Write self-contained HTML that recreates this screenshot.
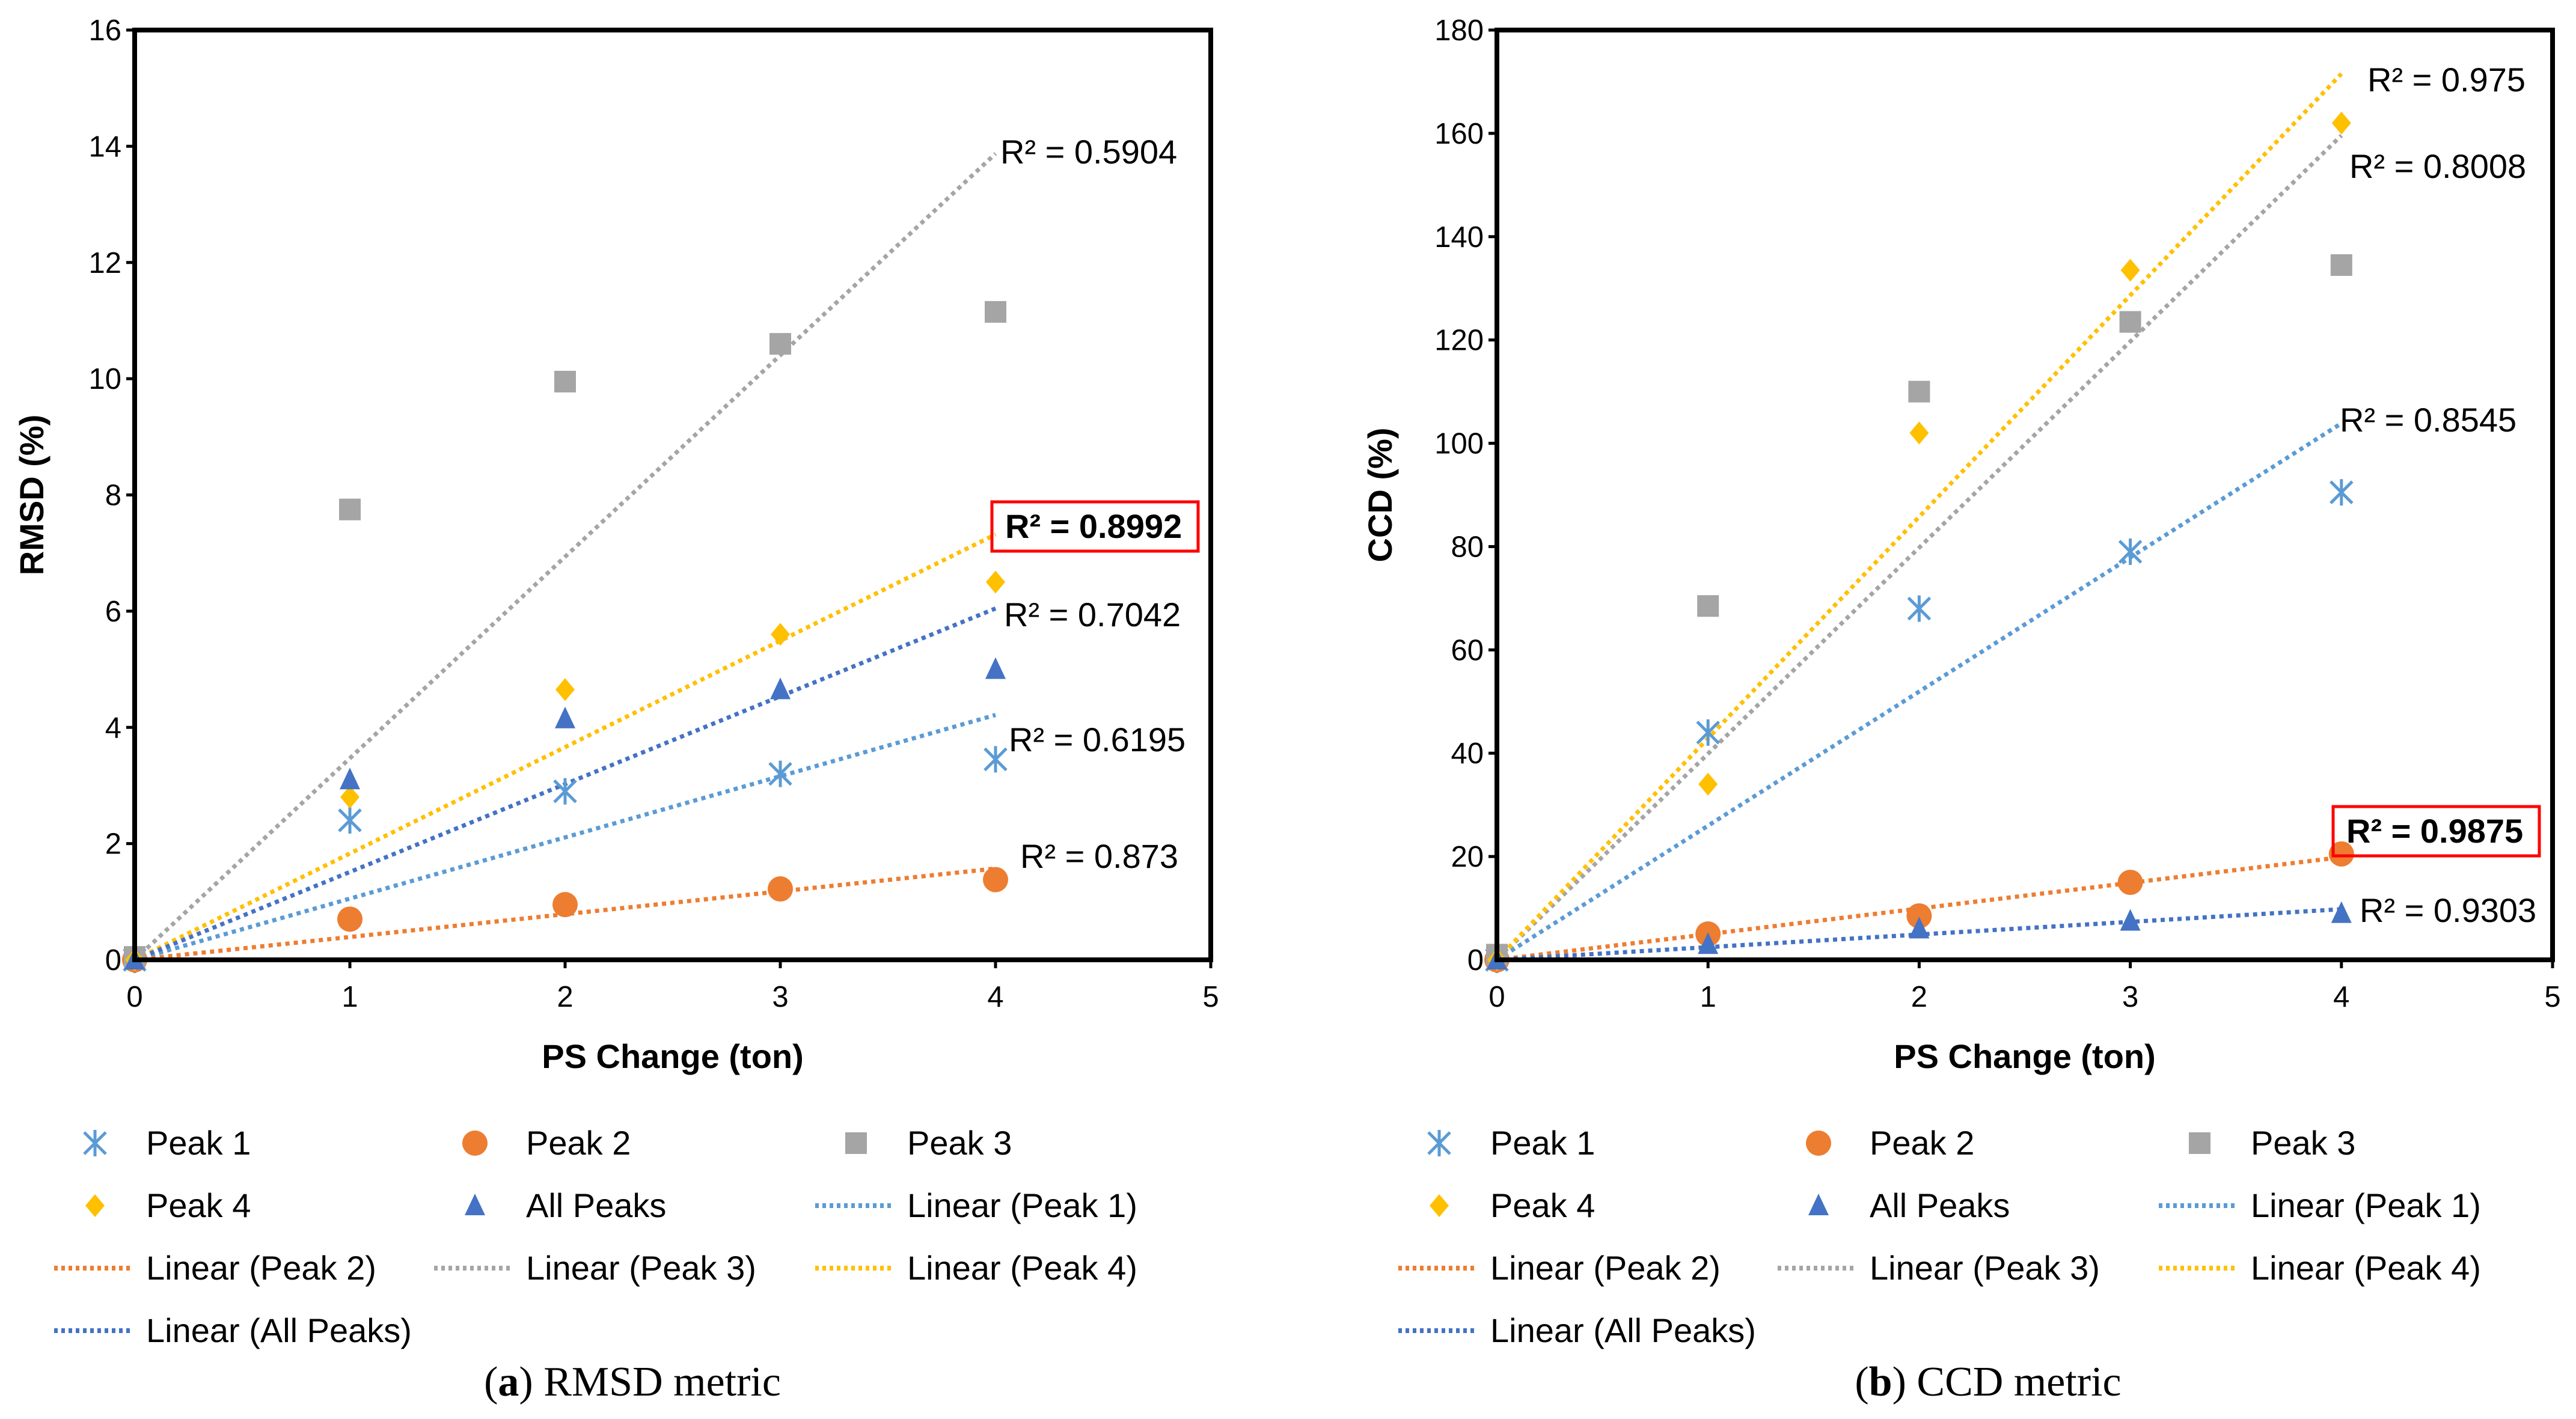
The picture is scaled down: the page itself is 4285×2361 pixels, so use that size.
<!DOCTYPE html>
<html><head><meta charset="utf-8"><style>
html,body{margin:0;padding:0;background:#fff;}
svg{display:block;}
text{font-family:"Liberation Sans",sans-serif;}
text.serif{font-family:"Liberation Serif",serif;}
</style></head><body>
<svg id="fig" width="4285" height="2361" viewBox="0 0 4285 2361" xmlns="http://www.w3.org/2000/svg"></svg>
<script>
const xTicks = [0,1,2,3,4,5];
const xVals = [0,1,2,3,4];
const rmsdTicks = [0,2,4,6,8,10,12,14,16];
const rmsdPeak1 = [0,2.4,2.9,3.2,3.45];
const rmsdPeak2 = [0,0.7,0.95,1.22,1.38];
const rmsdPeak3 = [0.05,7.75,9.95,10.6,11.15];
const rmsdPeak4 = [0,2.8,4.65,5.6,6.5];
const rmsdAll = [0,3.1,4.15,4.65,5.0];
const rmsdR2 = ["0.6195","0.873","0.5904","0.8992","0.7042"];
const ccdTicks = [0,20,40,60,80,100,120,140,160,180];
const ccdPeak1 = [0,44,68,79,90.5];
const ccdPeak2 = [0,5,8.5,15,20.5];
const ccdPeak3 = [1,68.5,110,123.5,134.5];
const ccdPeak4 = [0,34,102,133.5,162];
const ccdAll = [0,3,6,7.5,9];
const ccdR2 = ["0.8545","0.9875","0.8008","0.975","0.9303"];
const seriesNames = ["Peak 1","Peak 2","Peak 3","Peak 4","All Peaks"];

const NS="http://www.w3.org/2000/svg";
const svg=document.getElementById('fig');
const colors=["#5B9BD5","#ED7D31","#A5A5A5","#FFC000","#4472C4"];
function el(tag,attrs,parent){const e=document.createElementNS(NS,tag);for(const k in attrs)e.setAttribute(k,attrs[k]);(parent||svg).appendChild(e);return e;}
function txt(s,attrs,parent){const e=el('text',attrs,parent);e.textContent=s;return e;}

function marker(g,type,cx,cy){
  let m;
  if(type===0){
    m=el('g',{stroke:colors[0],'stroke-width':5,fill:'none'},g);
    el('line',{x1:cx-18,y1:cy-18,x2:cx+18,y2:cy+18},m);
    el('line',{x1:cx-18,y1:cy+18,x2:cx+18,y2:cy-18},m);
    el('line',{x1:cx,y1:cy-22,x2:cx,y2:cy+22},m);
  } else if(type===1){
    m=el('circle',{cx:cx,cy:cy,r:21,fill:colors[1]},g);
  } else if(type===2){
    m=el('rect',{x:cx-18,y:cy-18,width:36,height:36,fill:colors[2]},g);
  } else if(type===3){
    m=el('polygon',{points:`${cx},${cy-19} ${cx+16},${cy} ${cx},${cy+19} ${cx-16},${cy}`,fill:colors[3]},g);
  } else {
    m=el('polygon',{points:`${cx},${cy-20} ${cx+17},${cy+16} ${cx-17},${cy+16}`,fill:colors[4]},g);
  }
  return m;
}

function chart(cfg){
  const {L,R,T,B,ymax,yticks,series,r2,r2pos,boxIdx,ytitle,prefix,legendX,caption,capX}=cfg;
  const xs=v=>L+(R-L)*v/5;
  const ys=v=>B-(B-T)*v/ymax;
  const g=el('g',{});
  
  
  yticks.forEach(t=>{
    el('line',{x1:L-14,y1:ys(t),x2:L,y2:ys(t),stroke:'#000','stroke-width':5},g);
    const tl=txt(String(t),{x:L-22,y:ys(t)+17,'font-size':49,'text-anchor':'end',fill:'#000'},g);
    
    
  });
  xTicks.forEach(t=>{
    el('line',{x1:xs(t),y1:B,x2:xs(t),y2:B+14,stroke:'#000','stroke-width':5},g);
    const tl=txt(String(t),{x:xs(t),y:B+78,'font-size':49,'text-anchor':'middle',fill:'#000'},g);
    
    
  });
  series.forEach((s,i)=>{
    let sxy=0,sxx=0;xVals.forEach((x,j)=>{sxy+=x*s[j];sxx+=x*x;});
    const k=sxy/sxx;
    const ln=el('line',{x1:xs(0),y1:ys(0),x2:xs(4),y2:ys(4*k),stroke:colors[i],'stroke-width':7,'stroke-dasharray':'7 7'},g);
    
    
  });
  series.forEach((s,i)=>{
    s.forEach((v,j)=>{
      const m=marker(g,i,xs(xVals[j]),ys(v));
      
      
    });
  });
  el('rect',{x:L,y:T,width:R-L,height:B-T,fill:'none',stroke:'#000','stroke-width':8},g);
  r2.forEach((v,i)=>{
    const p=r2pos[i];
    const bold=(i===boxIdx);
    const t=txt('R² = '+v,{x:p[0],y:p[1],'font-size':56,fill:'#000','font-weight':bold?'bold':'normal'},g);
    
    
    if(bold){
      const bx=el('rect',{x:p[0]-22,y:p[1]-60,width:343,height:82,fill:'none',stroke:'#FF0000','stroke-width':5},g);
      
      
    }
  });
  const xt=txt('PS Change (ton)',{x:(L+R)/2,y:1777,'font-size':56,'font-weight':'bold','text-anchor':'middle',fill:'#000'},g);
  
  
  const yx=cfg.ytx, yy=(T+B)/2;
  const yt=txt(ytitle,{x:yx,y:yy,'font-size':56,'font-weight':'bold','text-anchor':'middle',fill:'#000',transform:`rotate(-90 ${yx} ${yy})`},g);
  
  
  const rows=[1902,2006,2110,2214];
  const items=[];
  seriesNames.forEach((n,i)=>items.push({type:'m',i:i,label:n}));
  seriesNames.forEach((n,i)=>items.push({type:'l',i:i,label:'Linear ('+n+')'}));
  items.forEach((it,idx)=>{
    const col=idx%3,row=Math.floor(idx/3);
    const tx=legendX[col], y=rows[row];
    const lg=el('g',{},g);
    
    
    if(it.type==='m'){ marker(lg,it.i,tx-85,y); }
    else { el('line',{x1:tx-153,y1:y,x2:tx-22,y2:y,stroke:colors[it.i],'stroke-width':8,'stroke-dasharray':'6 6'},lg); }
    txt(it.label,{x:tx,y:y+19,'font-size':56,fill:'#000'},lg);
  });
  const c=el('text',{x:capX,y:2322,'font-size':70,'text-anchor':'middle',fill:'#000','class':'serif'},g);
  
  
  const t1=document.createElementNS(NS,'tspan');t1.textContent='(';c.appendChild(t1);
  const t2=document.createElementNS(NS,'tspan');t2.setAttribute('font-weight','bold');t2.textContent=caption[0];c.appendChild(t2);
  const t3=document.createElementNS(NS,'tspan');t3.textContent=') '+caption[1];c.appendChild(t3);
}

chart({L:224,R:2014,T:50,B:1597,ymax:16,yticks:rmsdTicks,
  series:[rmsdPeak1,rmsdPeak2,rmsdPeak3,rmsdPeak4,rmsdAll],r2:rmsdR2,
  r2pos:[[1678,1250],[1697,1444],[1664,272],[1672,895],[1670,1042]],boxIdx:3,
  ytitle:'RMSD (%)',ytx:72,prefix:'rmsd',legendX:[243,875,1509],caption:['a','RMSD metric'],capX:1052});
chart({L:2490,R:4246,T:50,B:1597,ymax:180,yticks:ccdTicks,
  series:[ccdPeak1,ccdPeak2,ccdPeak3,ccdPeak4,ccdAll],r2:ccdR2,
  r2pos:[[3892,718],[3903,1402],[3908,296],[3938,152],[3925,1534]],boxIdx:1,
  ytitle:'CCD (%)',ytx:2315,prefix:'ccd',legendX:[2479,3110,3744],caption:['b','CCD metric'],capX:3307});
</script>
</body></html>
